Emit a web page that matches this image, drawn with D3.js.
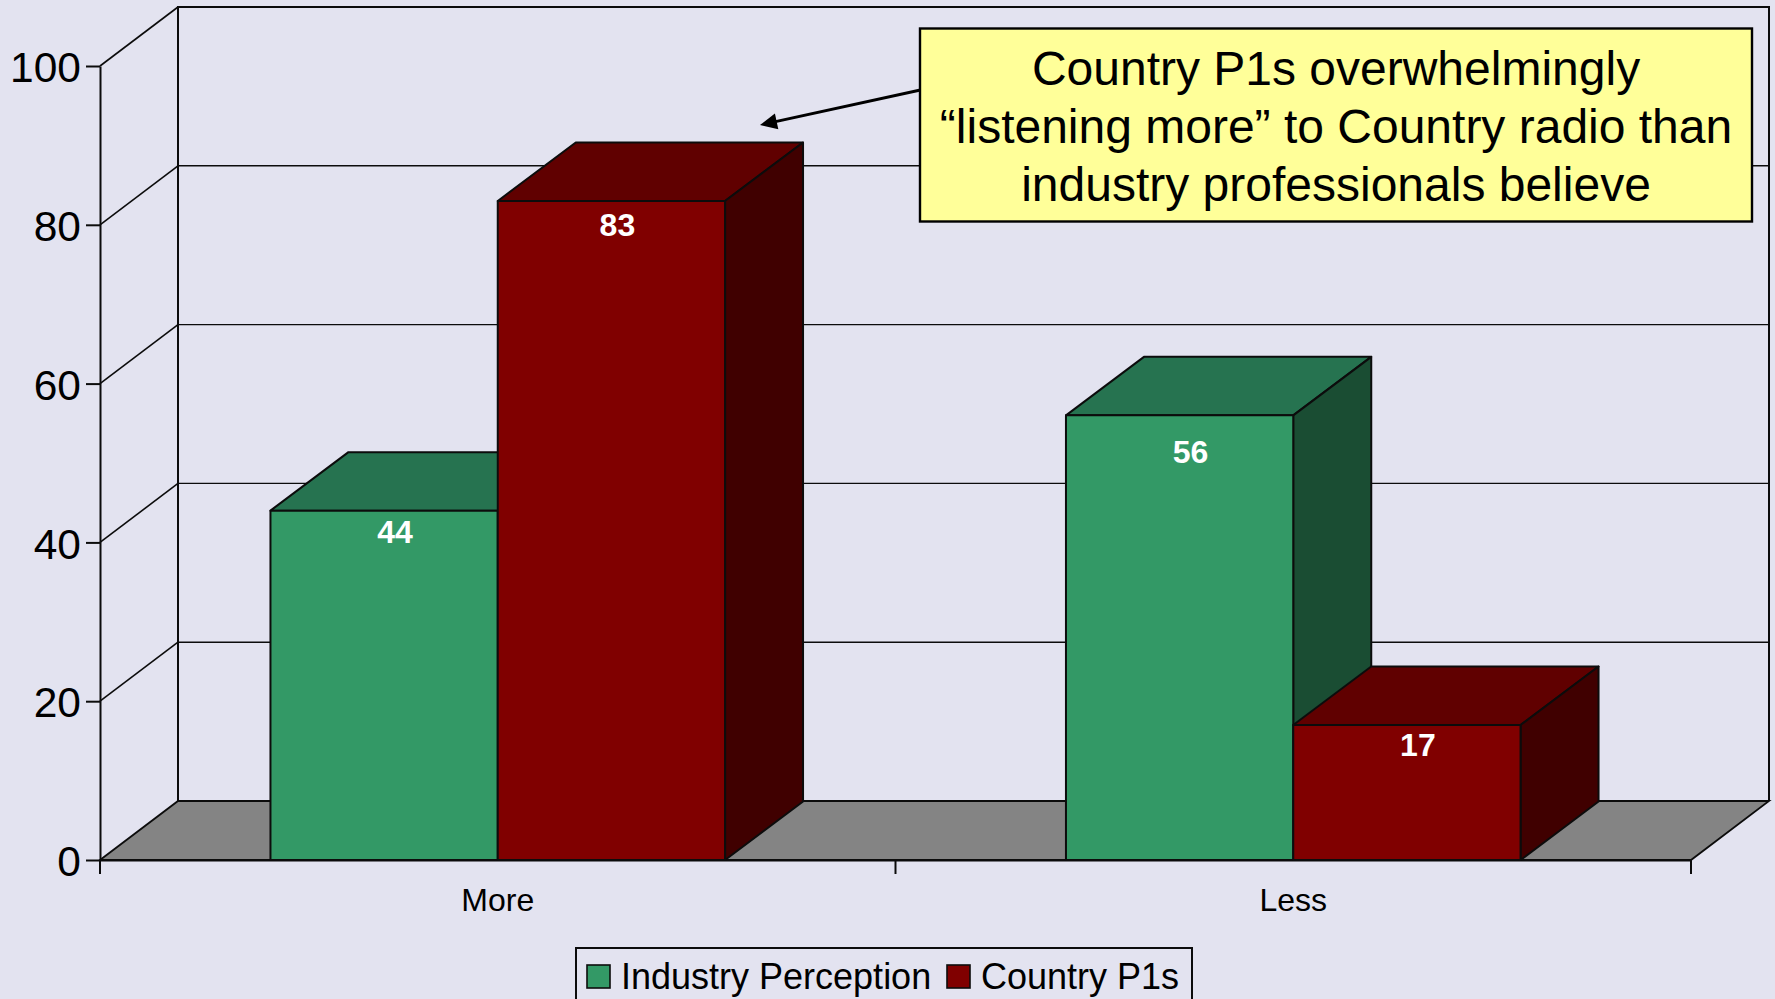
<!DOCTYPE html>
<html><head><meta charset="utf-8">
<script src="https://cdn.jsdelivr.net/npm/d3@7"></script>
<style>html,body{margin:0;padding:0;background:#E3E3F0;overflow:hidden}svg{display:block;font-family:"Liberation Sans",Arial,sans-serif}</style>
</head><body><svg id="c" width="1775" height="999"></svg>
<script>
const categories = ["More", "Less"];
const seriesNames = ["Industry Perception", "Country P1s"];
const industryPerception = [44, 56];
const countryP1s = [83, 17];
const yTicks = [0, 20, 40, 60, 80, 100];
const calloutLines = ["Country P1s overwhelmingly", "\u201Clistening more\u201D to Country radio than", "industry professionals believe"];

const frontColors = ["#339966", "#800000"];
const topColors = ["#267350", "#600000"];
const sideColors = ["#1A4D33", "#400000"];
const labelNudge = [[[11,-1],[6,1]], [[11,14],[11,-3]]];

const W=1775,H=999, left=100,right=1691, base=860, top100=66, dx=78, dy=-59, barDy=-58.5;
const ink="#0c0c0c";
const svg=d3.select("#c");
svg.append("rect").attr("width",W).attr("height",H).attr("fill","#E3E3F0");
const y=d3.scaleLinear().domain([0,100]).range([base,top100]);
const x0=d3.scaleBand().domain(categories).range([left,right]);
const x1=d3.scaleBand().domain(seriesNames).range([0,x0.bandwidth()]).paddingInner(0).paddingOuter(0.75);
const pts=a=>a.map(p=>p.join(",")).join(" ");

// back wall
const wall=svg.append("g").attr("fill","none").attr("stroke",ink);
wall.append("polyline").attr("points",pts([[left+dx,base+dy],[left+dx,y(100)+dy],[right+dx,y(100)+dy],[right+dx,base+dy]])).attr("stroke-width",2);
wall.selectAll("line.g").data(yTicks.filter(d=>d>0)).join("line").attr("class","g")
  .attr("x1",left).attr("y1",d=>y(d)).attr("x2",left+dx).attr("y2",d=>y(d)+dy).attr("stroke-width",1.6);
wall.selectAll("line.h").data(yTicks.filter(d=>d>0&&d<100)).join("line").attr("class","h")
  .attr("x1",left+dx).attr("y1",d=>y(d)+dy).attr("x2",right+dx).attr("y2",d=>y(d)+dy).attr("stroke-width",1.4);
// floor
svg.append("polygon").attr("points",pts([[left,base],[left+dx,base+dy],[right+dx,base+dy],[right,base]]))
  .attr("fill","#848484").attr("stroke",ink).attr("stroke-width",1.8);

// axes
const yAxis=d3.axisLeft(y).tickValues(yTicks).tickSize(14).tickSizeOuter(0).tickPadding(5);
const gy=svg.append("g").attr("transform",`translate(${left},0)`).call(yAxis);
gy.selectAll("path,line").attr("stroke",ink).attr("stroke-width",2);
gy.selectAll("text").attr("font-size",42.5).attr("font-family","Liberation Sans").attr("fill","#000").attr("dy","0.37em");
const xAxis=d3.axisBottom(x0).tickSize(0).tickSizeOuter(0).tickPadding(28);
const gx=svg.append("g").attr("transform",`translate(0,${base})`).call(xAxis);
gx.select("path").attr("stroke",ink).attr("stroke-width",2);
gx.selectAll("text").attr("font-size",32).attr("font-family","Liberation Sans").attr("fill","#000");
const tickEdges=[...categories.map(c=>x0(c)),x0(categories[1])+x0.bandwidth()];
svg.selectAll("line.xt").data(tickEdges).join("line").attr("class","xt")
  .attr("x1",d=>d).attr("x2",d=>d).attr("y1",base).attr("y2",base+14).attr("stroke",ink).attr("stroke-width",2);

// bars
const values=[industryPerception,countryP1s];
const bars=svg.append("g").attr("stroke",ink).attr("stroke-width",2).attr("stroke-linejoin","round");
categories.forEach((c,ci)=>{
  seriesNames.forEach((s,si)=>{
    const v=values[si][ci], a=x0(c)+x1(s), b=a+x1.bandwidth(), t=y(v);
    bars.append("polygon").attr("points",pts([[a,t],[a+dx,t+barDy],[b+dx,t+barDy],[b,t]])).attr("fill",topColors[si]);
    bars.append("polygon").attr("points",pts([[b,t],[b+dx,t+barDy],[b+dx,base+barDy],[b,base]])).attr("fill",sideColors[si]);
    bars.append("rect").attr("x",a).attr("y",t).attr("width",b-a).attr("height",base-t).attr("fill",frontColors[si]);
  });
});
categories.forEach((c,ci)=>{
  seriesNames.forEach((s,si)=>{
    const v=values[si][ci], a=x0(c)+x1(s), n=labelNudge[ci][si];
    svg.append("text").text(v).attr("x",a+x1.bandwidth()/2+n[0]).attr("y",y(v)+22+n[1]).attr("dy","0.36em")
      .attr("text-anchor","middle").attr("font-weight","700").attr("font-size",32).attr("fill","#fff");
  });
});

// callout
const arrowEnd=[760,125], arrowStart=[925,89];
const ang=Math.atan2(arrowStart[1]-arrowEnd[1],arrowStart[0]-arrowEnd[0]);
svg.append("line").attr("x1",arrowStart[0]).attr("y1",arrowStart[1]).attr("x2",arrowEnd[0]+10*Math.cos(ang)).attr("y2",arrowEnd[1]+10*Math.sin(ang))
  .attr("stroke","#000").attr("stroke-width",3);
const al=17, aw=8;
const bx=arrowEnd[0]+al*Math.cos(ang), by=arrowEnd[1]+al*Math.sin(ang);
svg.append("polygon").attr("fill","#000").attr("points",pts([arrowEnd,[bx-aw*Math.sin(ang),by+aw*Math.cos(ang)],[bx+aw*Math.sin(ang),by-aw*Math.cos(ang)]]));
svg.append("rect").attr("x",920).attr("y",28.5).attr("width",832).attr("height",193).attr("fill","#FFFF99").attr("stroke","#000").attr("stroke-width",2.4);
svg.selectAll("text.cl").data(calloutLines).join("text").attr("class","cl").text(d=>d)
  .attr("x",1336).attr("y",(d,i)=>85+i*58).attr("text-anchor","middle").attr("font-size",48).attr("fill","#000");

// legend
svg.append("rect").attr("x",576).attr("y",948).attr("width",616).attr("height",60).attr("fill","none").attr("stroke",ink).attr("stroke-width",2);
const legendX=[587,947], textX=[621,981];
seriesNames.forEach((s,i)=>{
  svg.append("rect").attr("x",legendX[i]).attr("y",965).attr("width",23).attr("height",23).attr("fill",frontColors[i]).attr("stroke",ink).attr("stroke-width",1.6);
  svg.append("text").text(s).attr("x",textX[i]).attr("y",989).attr("font-size",36).attr("fill","#000");
});
</script></body></html>
